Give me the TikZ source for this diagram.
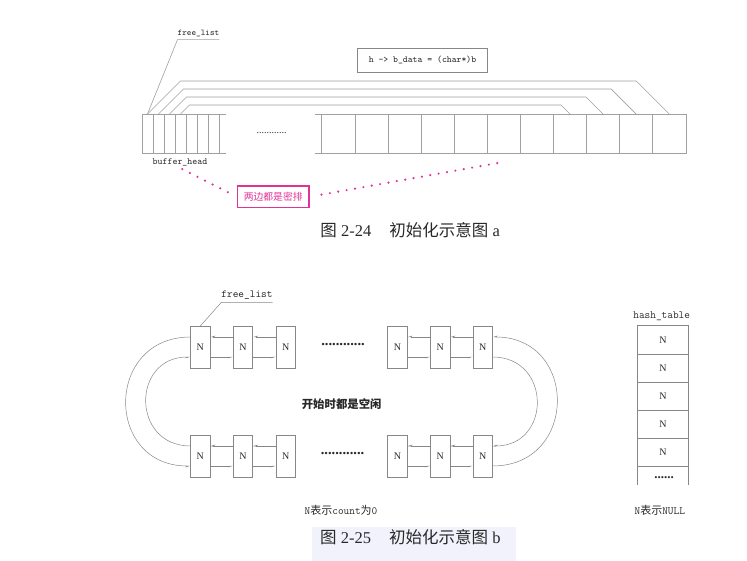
\documentclass[tikz,border=0pt]{standalone}
\usepackage{fontspec}
\setmainfont{Liberation Serif}
\newfontfamily\cjk{Noto Sans CJK SC}
\usetikzlibrary{arrows.meta}
\definecolor{linea}{RGB}{160,160,160}
\definecolor{borde}{RGB}{135,135,135}
\definecolor{rosa}{RGB}{225,50,150}
\definecolor{texto}{RGB}{40,40,40}
\definecolor{fondo}{RGB}{241,242,251}

\begin{document}
\begin{tikzpicture}[x=1pt, y=-1pt,
    celda/.style={draw=linea, line width=0.6pt, minimum height=39pt, inner sep=0pt, outer sep=0pt},
    caja/.style={draw=borde, line width=0.6pt, minimum width=19.5pt, minimum height=42pt, inner sep=0pt, outer sep=0pt, text=texto, font=\fontsize{10}{10}\selectfont},
    fila/.style={draw=borde, line width=0.6pt, minimum width=50.6pt, minimum height=28.1pt, inner sep=0pt, outer sep=0pt, text=texto, font=\fontsize{10}{10}\selectfont},
    flecha/.style={draw=borde, line width=0.5pt, -{Stealth[harpoon, swap, length=4.5pt, width=2.6pt]}},
    punteado/.style={draw=rosa, line width=2.4pt, line cap=round, dash pattern=on 0pt off 8.5pt},
    etiqueta/.style={text=texto, inner sep=0pt}]
        \useasboundingbox (0,0) rectangle (747,561);

        % Figura a: celdas pequenas (buffer_head)
        \foreach \i in {1,...,7}
            \node[celda, minimum width=11pt] (s\i) at (136.5+11*\i, 133.5) {};
        \draw[linea, line width=0.6pt] (s7.north east) -- +(7,0) (s7.south east) -- +(7,0);
        \node[etiqueta, font=\fontsize{10}{10}\selectfont] (huecoa) at (271.7,133) {............};

        % Figura a: bloques de datos
        \foreach \i in {1,...,11}
            \node[celda, minimum width=33.1pt] (c\i) at (305.15+33.1*\i, 133.5) {};
        \draw[linea, line width=0.6pt] (c1.north west) -- +(-7,0) (c1.south west) -- +(-7,0);

        % Figura a: enlaces b_data
        \foreach \a/\b/\h in {1/11/33, 2/10/25, 3/9/17, 4/8/9}
            \draw[linea, line width=0.6pt] (s\a.north) -- ++(\h,-\h) -- ([shift={(-\h,-\h)}]c\b.north) -- (c\b.north);

        \node[etiqueta, font=\ttfamily\fontsize{8.8}{8.8}\selectfont, inner ysep=3pt] (fla) at (198.5,33) {free\_list};
        \draw[linea, line width=0.6pt] (s1.north) -- (fla.south west) -- (fla.south east);
        \node[draw=borde, line width=0.6pt, minimum width=130.4pt, minimum height=24pt, inner sep=0pt,
              text=texto, font=\ttfamily\fontsize{9.3}{9.3}\selectfont] (hb) at (422.5,60.3) {h -> b\_data = (char*)b};
        \node[etiqueta, font=\ttfamily\fontsize{9.5}{9.5}\selectfont, inner sep=2pt] (bh) at (180,162) {buffer\_head};

        % Figura a: nota en rosa
        \node[draw=rosa, line width=1.3pt, text=rosa, minimum width=71.7pt, minimum height=21.3pt, inner sep=0pt,
              font=\cjk\fontsize{9.8}{9.8}\selectfont] (nota) at (273.2,196.7) {两边都是密排};
        \draw[punteado, shorten <=10pt, shorten >=2pt] (nota.west) -- (bh.south);
        \draw[punteado, shorten <=12pt, shorten >=3pt] (nota.east) -- ([yshift=-9pt]c6.south);

        \node[etiqueta, font=\fontsize{16.5}{16.5}\selectfont] (pie_a) at (410.2,230)
            {{\cjk 图} 2-24\hspace{1.1em}{\cjk 初始化示意图} a};

        % Figura b: listas de nodos
        \foreach \i/\x in {1/200.3, 2/243, 3/285.7, 4/397.5, 5/440.2, 6/482.7} {
            \node[caja] (t\i) at (\x,347) {N};
            \node[caja] (b\i) at (\x,456) {N};
        }
        \foreach \i/\j in {1/2, 2/3, 4/5, 5/6} {
            \draw[flecha] ([yshift=-11pt]t\j.north west) -- ([yshift=-11pt]t\i.north east);
            \draw[flecha] ([yshift=11pt]t\i.south east) -- ([yshift=11pt]t\j.south west);
            \draw[flecha] ([yshift=-11pt]b\j.north west) -- ([yshift=-11pt]b\i.north east);
            \draw[flecha] ([yshift=11pt]b\i.south east) -- ([yshift=11pt]b\j.south west);
        }
        \node[etiqueta, font=\bfseries\fontsize{14.5}{14.5}\selectfont] (huecot) at (343,345) {............};
        \node[etiqueta, font=\bfseries\fontsize{14.5}{14.5}\selectfont] (huecob) at (342.5,454) {............};

        % Figura b: arcos de cierre
        \draw[flecha] ([yshift=-11pt]t1.north west) .. controls +(-86,0) and +(-86,0) .. ([yshift=11pt]b1.south west);
        \draw[flecha] ([yshift=-11pt]b1.north west) .. controls +(-59.3,0) and +(-59.3,0) .. ([yshift=11pt]t1.south west);
        \draw[flecha] ([yshift=11pt]b6.south east) .. controls +(86,0) and +(86,0) .. ([yshift=-11pt]t6.north east);
        \draw[flecha] ([yshift=11pt]t6.south east) .. controls +(59.3,0) and +(59.3,0) .. ([yshift=-11pt]b6.north east);

        \node[etiqueta, font=\ttfamily\fontsize{10.8}{10.8}\selectfont, inner ysep=3pt] (flb) at (247,295) {free\_list};
        \draw[borde, line width=0.5pt] (t1.north) -- (flb.south west) -- (flb.south east);
        \node[etiqueta, font=\cjk\bfseries\fontsize{11.4}{11.4}\selectfont] (libre) at (341.7,404.3) {开始时都是空闲};
        \node[etiqueta, font=\cjk\fontsize{11}{11}\selectfont] (cero) at (341,510)
            {{\ttfamily N}表示{\ttfamily count}为{\ttfamily 0}};

        % Figura b: tabla hash
        \node[etiqueta, font=\ttfamily\fontsize{11}{11}\selectfont] (ht) at (661.7,316.7) {hash\_table};
        \foreach \i in {1,...,5}
            \node[fila] (h\i) at (663,{339.75+28.1*(\i-1)}) {N};
        \draw[borde, line width=0.6pt] (h5.south west) -- +(0,19) (h5.south east) -- +(0,19);
        \node[etiqueta, font=\bfseries\fontsize{13}{13}\selectfont] (hdots) at (664,478) {......};
        \node[etiqueta, font=\cjk\fontsize{11}{11}\selectfont] (nulo) at (659.8,510.7)
            {{\ttfamily N}表示{\ttfamily NULL}};

        \fill[fondo] (312,527) rectangle (516,561);
        \node[etiqueta, font=\fontsize{16.5}{16.5}\selectfont] (pie_b) at (410.4,537)
            {{\cjk 图} 2-25\hspace{1.1em}{\cjk 初始化示意图} b};
    \end{tikzpicture}
\end{document}
